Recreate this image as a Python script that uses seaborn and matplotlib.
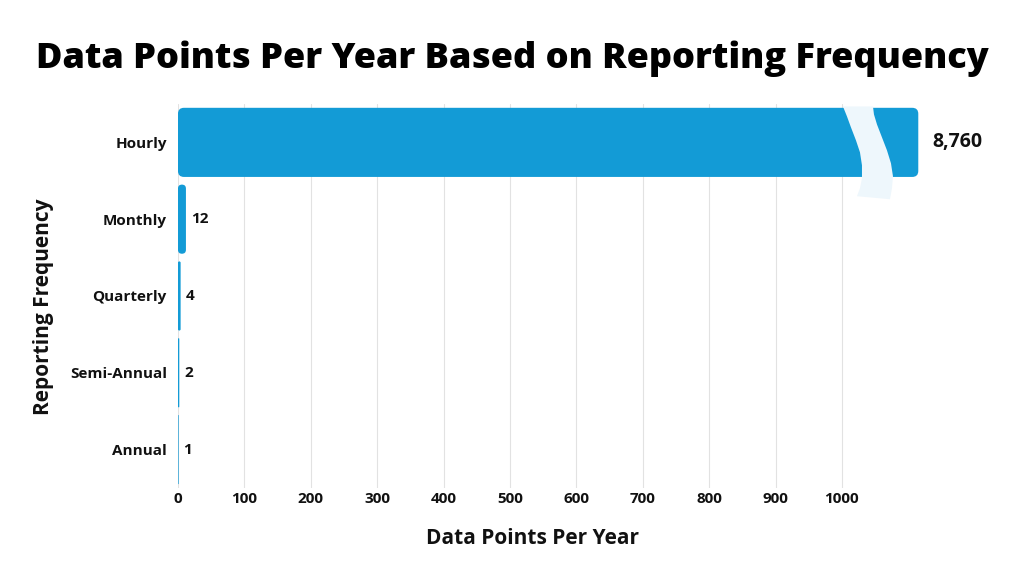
import matplotlib
matplotlib.use("Agg")
import matplotlib.pyplot as plt
import numpy as np
import pandas as pd
import seaborn as sns
from matplotlib.patches import FancyBboxPatch, Polygon

# chart data
frequencies = ["Hourly", "Monthly", "Quarterly", "Semi-Annual", "Annual"]
points_per_year = [8760, 12, 4, 2, 1]
value_labels = ["8,760", "12", "4", "2", "1"]
x_ticks = [0, 100, 200, 300, 400, 500, 600, 700, 800, 900, 1000]

# the hourly bar is drawn cut off at the axis break
axis_break = 1115

bar_color = "#139bd6"
text_color = "#111111"

sns.set_theme(style="white")
plt.rcParams["font.family"] = ["Open Sans", "DejaVu Sans"]
plt.rcParams["font.weight"] = "bold"

df = pd.DataFrame({"frequency": frequencies, "points": points_per_year})
df["shown"] = df["points"].clip(upper=axis_break)

fig = plt.figure(figsize=(10.24, 5.76), dpi=100)
ax = fig.add_axes([0.1738, 0.1528, 0.7262, 0.6667])

sns.barplot(data=df, x="shown", y="frequency", orient="h", color=bar_color,
            width=0.9, saturation=1, ax=ax)

ax.set_xlim(0, 1120)
ax.set_ylim(4.5, -0.5)

# swap plain bars for rounded ones
x_px = ax.transData.transform([(100, 0)])[0][0] - ax.transData.transform([(0, 0)])[0][0]
x_px /= 100
y_px = abs(ax.transData.transform([(0, 1)])[0][1] - ax.transData.transform([(0, 0)])[0][1])
aspect = x_px / y_px
for p in list(ax.patches):
    x0, y0 = p.get_x(), p.get_y()
    w, h = p.get_width(), p.get_height()
    r = min(6 / x_px, w / 2)
    rounded = FancyBboxPatch((x0, y0), w, h,
                             boxstyle="round,pad=0,rounding_size=%f" % r,
                             mutation_aspect=aspect, facecolor=bar_color,
                             edgecolor="none", zorder=3)
    p.remove()
    ax.add_patch(rounded)

# axis break squiggle across the hourly bar
def to_data(px, py):
    return ((px - 178) / x_px, (py - 142) / 77.0)

left_edge = [(843, 106), (847, 116), (851, 127), (856, 140), (860, 152), (862, 165),
             (862, 178), (860, 188), (857, 196)]
right_edge = [(890, 199), (892, 188), (893, 176), (891, 163), (887, 150), (882, 137),
              (877, 124), (874, 114), (873, 106)]
squiggle = Polygon([to_data(*pt) for pt in left_edge + right_edge], closed=True,
                   facecolor="#eef7fc", edgecolor="none", zorder=4, clip_on=False)
ax.add_patch(squiggle)

for i, (v, lab) in enumerate(zip(df["shown"], value_labels)):
    big = points_per_year[i] > axis_break
    ax.annotate(lab, xy=(v, i), xytext=(10 if big else 3.5, 0), textcoords="offset points",
                va="center", ha="left", fontsize=14 if big else 11,
                fontweight="bold", color=text_color)

ax.set_xticks(x_ticks)
ax.set_xticklabels([str(t) for t in x_ticks], fontsize=11, fontweight="bold", color=text_color)
ax.set_yticks(range(len(frequencies)))
ax.set_yticklabels(frequencies, fontsize=11, fontweight="bold", color=text_color)
ax.tick_params(axis="x", length=0, pad=3)
ax.tick_params(axis="y", length=0, pad=8)
ax.grid(axis="x", color="#e2e2e2", linewidth=0.8, zorder=0)
ax.set_axisbelow(True)
for s in ax.spines.values():
    s.set_visible(False)

ax.set_xlabel("Data Points Per Year", fontsize=15, fontweight="bold", color=text_color)
ax.xaxis.set_label_coords(0.477, -0.105)
ax.set_ylabel("Reporting Frequency", fontsize=15, fontweight="bold", color=text_color)
ax.yaxis.set_label_coords(-0.167, 0.471)

fig.text(0.5, 0.898, "Data Points Per Year Based on Reporting Frequency", ha="center", va="center",
         fontsize=26, fontweight="heavy", color="#000000")

fig.savefig("out.png", dpi=100, facecolor="white")
